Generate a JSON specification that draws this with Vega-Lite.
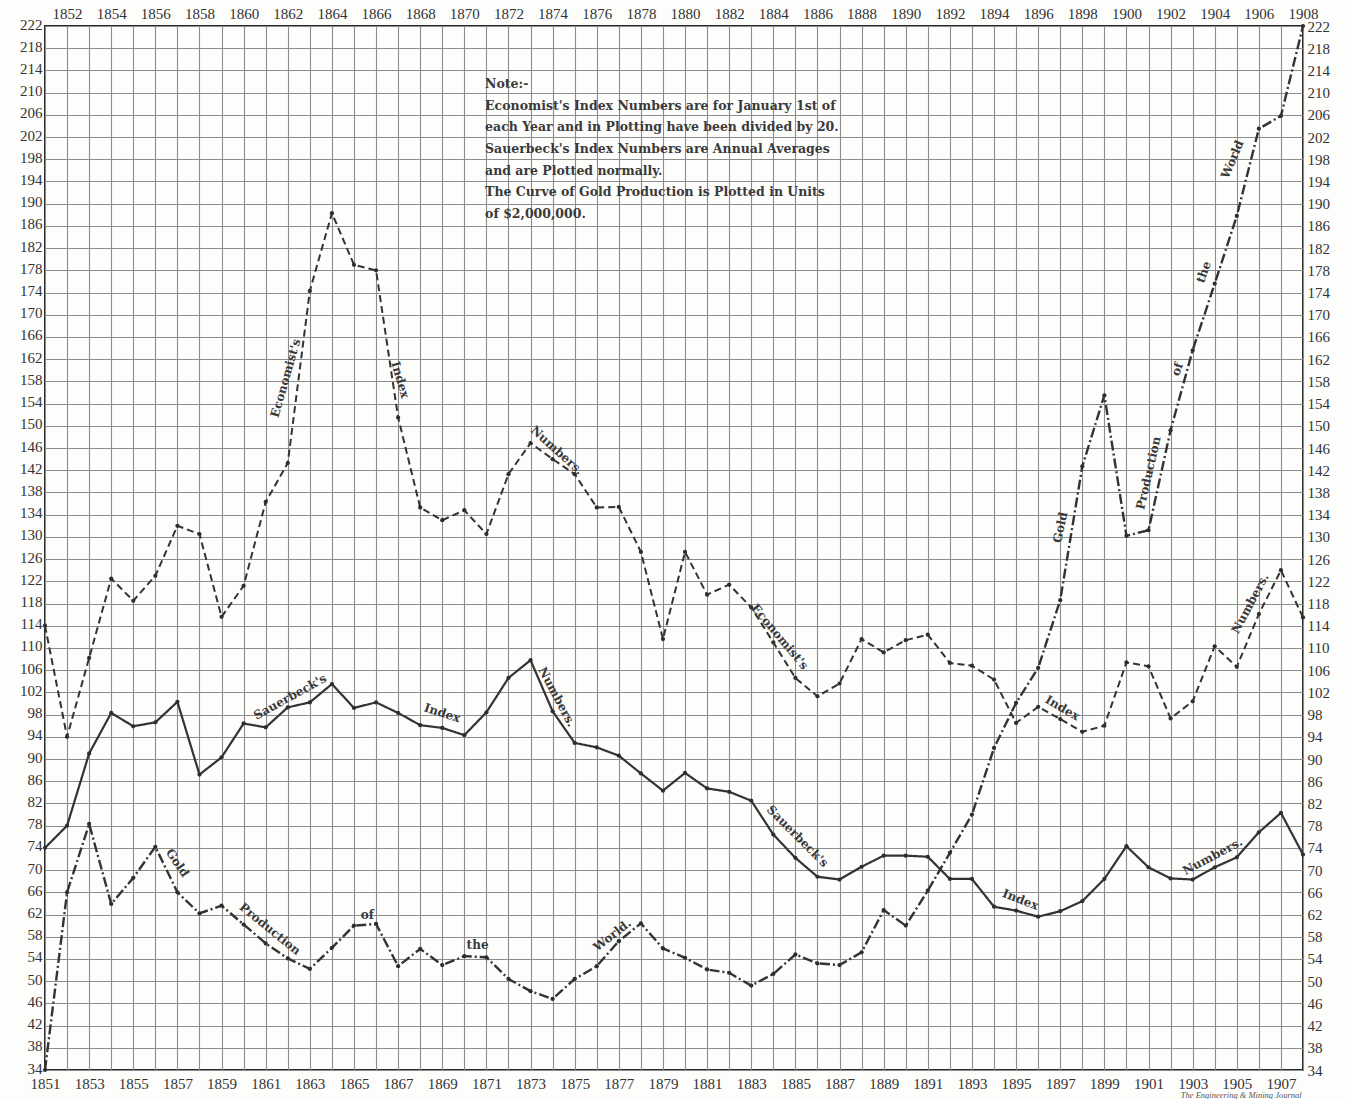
{
"$schema":"https://vega.github.io/schema/vega-lite/v6.json",
"width":1258,"height":1044,
"autosize":{"type":"none"},
"padding":{"left":45,"top":26,"right":47,"bottom":29},
"background":"#fdfdfc",
"config":{"view":{"stroke":"#2a2a2a","strokeWidth":2},"font":"Liberation Serif",
 "axis":{"labelFont":"Liberation Serif","labelFontSize":15,"labelColor":"#333333","ticks":false,"domain":false,"title":null,"labelOverlap":false,"labelFlush":false,"gridColor":"#8c8c8c","gridWidth":1.1,"gridOpacity":1}},
"datasets":{
"series":[
{"year":1851,"series":"Economist","value":114},{"year":1852,"series":"Economist","value":94},{"year":1853,"series":"Economist","value":108.2},{"year":1854,"series":"Economist","value":122.5},{"year":1855,"series":"Economist","value":118.5},{"year":1856,"series":"Economist","value":123},{"year":1857,"series":"Economist","value":132},{"year":1858,"series":"Economist","value":130.5},{"year":1859,"series":"Economist","value":115.6},{"year":1860,"series":"Economist","value":121.2},{"year":1861,"series":"Economist","value":136.3},{"year":1862,"series":"Economist","value":143.3},{"year":1863,"series":"Economist","value":174.3},{"year":1864,"series":"Economist","value":188.3},{"year":1865,"series":"Economist","value":179},{"year":1866,"series":"Economist","value":178},{"year":1867,"series":"Economist","value":151.5},{"year":1868,"series":"Economist","value":135.3},{"year":1869,"series":"Economist","value":133},{"year":1870,"series":"Economist","value":134.8},{"year":1871,"series":"Economist","value":130.5},{"year":1872,"series":"Economist","value":141.3},{"year":1873,"series":"Economist","value":146.9},{"year":1874,"series":"Economist","value":144},{"year":1875,"series":"Economist","value":141.3},{"year":1876,"series":"Economist","value":135.3},{"year":1877,"series":"Economist","value":135.4},{"year":1878,"series":"Economist","value":127.3},{"year":1879,"series":"Economist","value":111.6},{"year":1880,"series":"Economist","value":127.3},{"year":1881,"series":"Economist","value":119.6},{"year":1882,"series":"Economist","value":121.4},{"year":1883,"series":"Economist","value":117.3},{"year":1884,"series":"Economist","value":111},{"year":1885,"series":"Economist","value":104.6},{"year":1886,"series":"Economist","value":101.3},{"year":1887,"series":"Economist","value":103.6},{"year":1888,"series":"Economist","value":111.6},{"year":1889,"series":"Economist","value":109.2},{"year":1890,"series":"Economist","value":111.4},{"year":1891,"series":"Economist","value":112.4},{"year":1892,"series":"Economist","value":107.3},{"year":1893,"series":"Economist","value":106.8},{"year":1894,"series":"Economist","value":104.3},{"year":1895,"series":"Economist","value":96.5},{"year":1896,"series":"Economist","value":99.4},{"year":1897,"series":"Economist","value":97.2},{"year":1898,"series":"Economist","value":94.9},{"year":1899,"series":"Economist","value":96},{"year":1900,"series":"Economist","value":107.4},{"year":1901,"series":"Economist","value":106.7},{"year":1902,"series":"Economist","value":97.3},{"year":1903,"series":"Economist","value":100.4},{"year":1904,"series":"Economist","value":110.3},{"year":1905,"series":"Economist","value":106.6},{"year":1906,"series":"Economist","value":116.1},{"year":1907,"series":"Economist","value":124},{"year":1908,"series":"Economist","value":115.5},
{"year":1851,"series":"Sauerbeck","value":74},{"year":1852,"series":"Sauerbeck","value":78},{"year":1853,"series":"Sauerbeck","value":91},{"year":1854,"series":"Sauerbeck","value":98.3},{"year":1855,"series":"Sauerbeck","value":95.9},{"year":1856,"series":"Sauerbeck","value":96.6},{"year":1857,"series":"Sauerbeck","value":100.3},{"year":1858,"series":"Sauerbeck","value":87.2},{"year":1859,"series":"Sauerbeck","value":90.3},{"year":1860,"series":"Sauerbeck","value":96.4},{"year":1861,"series":"Sauerbeck","value":95.7},{"year":1862,"series":"Sauerbeck","value":99.3},{"year":1863,"series":"Sauerbeck","value":100.2},{"year":1864,"series":"Sauerbeck","value":103.5},{"year":1865,"series":"Sauerbeck","value":99.2},{"year":1866,"series":"Sauerbeck","value":100.2},{"year":1867,"series":"Sauerbeck","value":98.3},{"year":1868,"series":"Sauerbeck","value":96.1},{"year":1869,"series":"Sauerbeck","value":95.6},{"year":1870,"series":"Sauerbeck","value":94.3},{"year":1871,"series":"Sauerbeck","value":98.4},{"year":1872,"series":"Sauerbeck","value":104.6},{"year":1873,"series":"Sauerbeck","value":107.8},{"year":1874,"series":"Sauerbeck","value":98.6},{"year":1875,"series":"Sauerbeck","value":92.9},{"year":1876,"series":"Sauerbeck","value":92.1},{"year":1877,"series":"Sauerbeck","value":90.6},{"year":1878,"series":"Sauerbeck","value":87.4},{"year":1879,"series":"Sauerbeck","value":84.3},{"year":1880,"series":"Sauerbeck","value":87.5},{"year":1881,"series":"Sauerbeck","value":84.7},{"year":1882,"series":"Sauerbeck","value":84.1},{"year":1883,"series":"Sauerbeck","value":82.5},{"year":1884,"series":"Sauerbeck","value":76.4},{"year":1885,"series":"Sauerbeck","value":72.2},{"year":1886,"series":"Sauerbeck","value":68.8},{"year":1887,"series":"Sauerbeck","value":68.3},{"year":1888,"series":"Sauerbeck","value":70.6},{"year":1889,"series":"Sauerbeck","value":72.6},{"year":1890,"series":"Sauerbeck","value":72.6},{"year":1891,"series":"Sauerbeck","value":72.4},{"year":1892,"series":"Sauerbeck","value":68.4},{"year":1893,"series":"Sauerbeck","value":68.4},{"year":1894,"series":"Sauerbeck","value":63.4},{"year":1895,"series":"Sauerbeck","value":62.7},{"year":1896,"series":"Sauerbeck","value":61.6},{"year":1897,"series":"Sauerbeck","value":62.6},{"year":1898,"series":"Sauerbeck","value":64.4},{"year":1899,"series":"Sauerbeck","value":68.4},{"year":1900,"series":"Sauerbeck","value":74.3},{"year":1901,"series":"Sauerbeck","value":70.5},{"year":1902,"series":"Sauerbeck","value":68.5},{"year":1903,"series":"Sauerbeck","value":68.3},{"year":1904,"series":"Sauerbeck","value":70.5},{"year":1905,"series":"Sauerbeck","value":72.3},{"year":1906,"series":"Sauerbeck","value":76.8},{"year":1907,"series":"Sauerbeck","value":80.3},{"year":1908,"series":"Sauerbeck","value":72.8},
{"year":1851,"series":"Gold","value":34},{"year":1852,"series":"Gold","value":66},{"year":1853,"series":"Gold","value":78.3},{"year":1854,"series":"Gold","value":63.9},{"year":1855,"series":"Gold","value":68.6},{"year":1856,"series":"Gold","value":74.2},{"year":1857,"series":"Gold","value":66},{"year":1858,"series":"Gold","value":62.2},{"year":1859,"series":"Gold","value":63.6},{"year":1860,"series":"Gold","value":60.2},{"year":1861,"series":"Gold","value":56.8},{"year":1862,"series":"Gold","value":54.1},{"year":1863,"series":"Gold","value":52.2},{"year":1864,"series":"Gold","value":56},{"year":1865,"series":"Gold","value":60},{"year":1866,"series":"Gold","value":60.3},{"year":1867,"series":"Gold","value":52.7},{"year":1868,"series":"Gold","value":55.8},{"year":1869,"series":"Gold","value":52.9},{"year":1870,"series":"Gold","value":54.5},{"year":1871,"series":"Gold","value":54.3},{"year":1872,"series":"Gold","value":50.4},{"year":1873,"series":"Gold","value":48.2},{"year":1874,"series":"Gold","value":46.8},{"year":1875,"series":"Gold","value":50.4},{"year":1876,"series":"Gold","value":52.7},{"year":1877,"series":"Gold","value":57.2},{"year":1878,"series":"Gold","value":60.4},{"year":1879,"series":"Gold","value":55.9},{"year":1880,"series":"Gold","value":54.2},{"year":1881,"series":"Gold","value":52.1},{"year":1882,"series":"Gold","value":51.5},{"year":1883,"series":"Gold","value":49.2},{"year":1884,"series":"Gold","value":51.3},{"year":1885,"series":"Gold","value":54.8},{"year":1886,"series":"Gold","value":53.2},{"year":1887,"series":"Gold","value":52.9},{"year":1888,"series":"Gold","value":55.2},{"year":1889,"series":"Gold","value":62.8},{"year":1890,"series":"Gold","value":60},{"year":1891,"series":"Gold","value":66.3},{"year":1892,"series":"Gold","value":73.1},{"year":1893,"series":"Gold","value":80},{"year":1894,"series":"Gold","value":92},{"year":1895,"series":"Gold","value":100.1},{"year":1896,"series":"Gold","value":106.4},{"year":1897,"series":"Gold","value":118.6},{"year":1898,"series":"Gold","value":142.7},{"year":1899,"series":"Gold","value":155.5},{"year":1900,"series":"Gold","value":130.2},{"year":1901,"series":"Gold","value":131.2},{"year":1902,"series":"Gold","value":149.2},{"year":1903,"series":"Gold","value":163.6},{"year":1904,"series":"Gold","value":175.6},{"year":1905,"series":"Gold","value":187.8},{"year":1906,"series":"Gold","value":203.5},{"year":1907,"series":"Gold","value":205.8},{"year":1908,"series":"Gold","value":222}
],
"labels":[
{"label":"Economist's","year":1861.9,"value":158.6,"rot":-74},
{"label":"Index","year":1867.1,"value":158.3,"rot":74},
{"label":"Numbers.","year":1874.2,"value":145.6,"rot":42},
{"label":"Economist's","year":1884.3,"value":112,"rot":50},
{"label":"Index","year":1897.1,"value":99.2,"rot":30},
{"label":"Numbers.","year":1905.6,"value":118,"rot":-62},
{"label":"Sauerbeck's","year":1862.1,"value":101.2,"rot":-29},
{"label":"Index","year":1869.0,"value":98.3,"rot":18},
{"label":"Numbers.","year":1874.2,"value":101.2,"rot":62},
{"label":"Sauerbeck's","year":1885.1,"value":76.1,"rot":45},
{"label":"Index","year":1895.2,"value":64.7,"rot":21},
{"label":"Numbers.","year":1903.9,"value":72.5,"rot":-28},
{"label":"Gold","year":1857.0,"value":71.3,"rot":56},
{"label":"Production","year":1861.2,"value":59.4,"rot":39},
{"label":"of","year":1865.6,"value":61.9,"rot":0},
{"label":"the","year":1870.6,"value":56.5,"rot":0},
{"label":"World.","year":1876.7,"value":58.3,"rot":-38},
{"label":"Gold","year":1897.0,"value":131.7,"rot":-78},
{"label":"Production","year":1901.0,"value":141.5,"rot":-77},
{"label":"of","year":1902.3,"value":160.2,"rot":-70},
{"label":"the","year":1903.5,"value":177.7,"rot":-70},
{"label":"World","year":1904.8,"value":198,"rot":-67}
],
"note":[{"text":"Note:-\nEconomist's Index Numbers are for January 1st of\neach Year and in Plotting have been divided by 20.\nSauerbeck's Index Numbers are Annual Averages\nand are Plotted normally.\nThe Curve of Gold Production is Plotted in Units\nof $2,000,000.","year":1870.94,"value":210.8}],
"credit":[{"text":"The Engineering & Mining Journal","year":1905.2,"value":29.5}]
},
"layer":[
{"data":{"name":"series"},
 "mark":{"type":"line","color":"#333333","strokeJoin":"round"},
 "encoding":{
  "x":{"field":"year","type":"quantitative","scale":{"domain":[1851,1908],"nice":false,"zero":false},
   "axis":{"orient":"bottom","grid":true,"format":"d","labelPadding":6,
    "values":[1851,1852,1853,1854,1855,1856,1857,1858,1859,1860,1861,1862,1863,1864,1865,1866,1867,1868,1869,1870,1871,1872,1873,1874,1875,1876,1877,1878,1879,1880,1881,1882,1883,1884,1885,1886,1887,1888,1889,1890,1891,1892,1893,1894,1895,1896,1897,1898,1899,1900,1901,1902,1903,1904,1905,1906,1907,1908],
    "labelExpr":"datum.value % 2 == 1 ? datum.label : ''"}},
  "y":{"field":"value","type":"quantitative","scale":{"domain":[34,222],"nice":false,"zero":false},
   "axis":{"orient":"left","grid":true,"labelPadding":3,"labelOffset":-2,
    "values":[34,38,42,46,50,54,58,62,66,70,74,78,82,86,90,94,98,102,106,110,114,118,122,126,130,134,138,142,146,150,154,158,162,166,170,174,178,182,186,190,194,198,202,206,210,214,218,222]}},
  "detail":{"field":"series","type":"nominal"},
  "strokeDash":{"field":"series","type":"nominal","scale":{"domain":["Economist","Sauerbeck","Gold"],"range":[[7,4],[1,0],[10,3,2,3]]},"legend":null},
  "strokeWidth":{"field":"series","type":"nominal","scale":{"domain":["Economist","Sauerbeck","Gold"],"range":[2,2.4,1.7]},"legend":null}
 }},
{"data":{"name":"series"},
 "mark":{"type":"point","filled":true,"color":"#2e2e2e","size":18,"opacity":1},
 "encoding":{
  "x":{"field":"year","type":"quantitative","scale":{"domain":[1851,1908],"nice":false,"zero":false},
   "axis":{"orient":"top","grid":false,"format":"d","labelPadding":5,
    "values":[1852,1854,1856,1858,1860,1862,1864,1866,1868,1870,1872,1874,1876,1878,1880,1882,1884,1886,1888,1890,1892,1894,1896,1898,1900,1902,1904,1906,1908]}},
  "y":{"field":"value","type":"quantitative","scale":{"domain":[34,222],"nice":false,"zero":false},
   "axis":{"orient":"right","grid":false,"labelPadding":4,
    "values":[34,38,42,46,50,54,58,62,66,70,74,78,82,86,90,94,98,102,106,110,114,118,122,126,130,134,138,142,146,150,154,158,162,166,170,174,178,182,186,190,194,198,202,206,210,214,218,222]}}
 }},
{"data":{"name":"labels"},
 "mark":{"type":"text","font":"DejaVu Serif","fontWeight":"bold","fontSize":12,"color":"#3a3a3a","align":"center","baseline":"middle"},
 "encoding":{
  "x":{"field":"year","type":"quantitative","scale":{"domain":[1851,1908],"nice":false,"zero":false},"axis":null},
  "y":{"field":"value","type":"quantitative","scale":{"domain":[34,222],"nice":false,"zero":false},"axis":null},
  "text":{"field":"label"},
  "angle":{"field":"rot","type":"quantitative","scale":null}
 }},
{"data":{"name":"note"},
 "mark":{"type":"text","font":"DejaVu Serif","fontWeight":"bold","fontSize":12.5,"color":"#3a3a3a","align":"left","baseline":"alphabetic","lineBreak":"\n","lineHeight":21.6},
 "encoding":{
  "x":{"field":"year","type":"quantitative","scale":{"domain":[1851,1908],"nice":false,"zero":false},"axis":null},
  "y":{"field":"value","type":"quantitative","scale":{"domain":[34,222],"nice":false,"zero":false},"axis":null},
  "text":{"field":"text"}
 }},
{"data":{"name":"credit"},
 "mark":{"type":"text","font":"Liberation Serif","fontStyle":"italic","fontSize":8.5,"color":"#555555","align":"center","baseline":"middle"},
 "encoding":{
  "x":{"field":"year","type":"quantitative","scale":{"domain":[1851,1908],"nice":false,"zero":false},"axis":null},
  "y":{"field":"value","type":"quantitative","scale":{"domain":[34,222],"nice":false,"zero":false},"axis":null},
  "text":{"field":"text"}
 }}
],
"resolve":{"axis":{"x":"independent","y":"independent"}}
}
